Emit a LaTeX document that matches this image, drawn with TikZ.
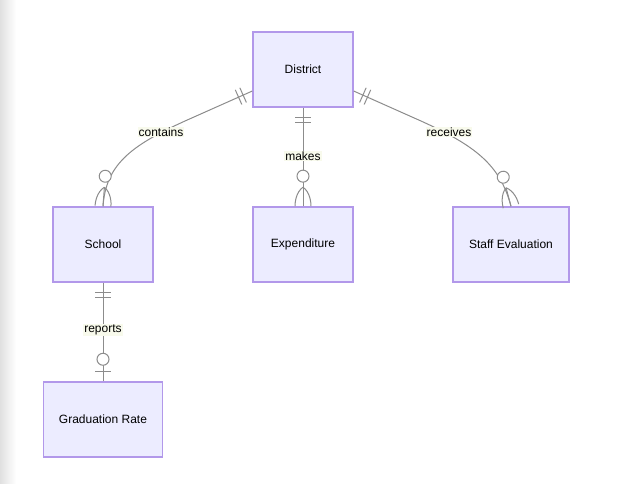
\documentclass[tikz,border=0pt]{standalone}
\usepackage{fontspec}
\setmainfont{Liberation Sans}
\usetikzlibrary{decorations.markings}

\definecolor{entfill}{RGB}{236,236,255}
\definecolor{entline}{RGB}{178,152,234}
\definecolor{relline}{RGB}{140,140,140}
\definecolor{lblfill}{RGB}{248,250,236}

\tikzset{
  entity/.style={draw=entline, fill=entfill, line width=1.5pt, minimum height=75pt, inner sep=0pt, font=\fontsize{12}{14}\selectfont},
  rel/.style={draw=relline, line width=1pt},
  lbl/.style={fill=lblfill, inner sep=1pt, font=\fontsize{12}{14}\selectfont},
  % two bars next to the parent entity
  onlyone/.style={postaction={decorate, decoration={markings,
    mark=at position 10pt with {\draw[relline, line width=1pt] (0,-8pt) -- (0,8pt);},
    mark=at position 15pt with {\draw[relline, line width=1pt] (0,-8pt) -- (0,8pt);}}}},
  % circle and crow's foot next to the child entity
  zeromany/.style={postaction={decorate, decoration={markings,
    mark=at position -0.1pt with {\draw[relline, line width=1pt] (-19pt,0) -- (0,0);
                                  \draw[relline, fill=white, line width=1pt] (-30pt,0) circle (6pt);
                                  \draw[relline, line width=1pt] (-19pt,0) .. controls (-14pt,7pt) and (-4pt,8pt) .. (0,8pt);
                                  \draw[relline, line width=1pt] (-19pt,0) .. controls (-14pt,-7pt) and (-4pt,-8pt) .. (0,-8pt);}}}},
  % circle and one bar next to the child entity
  zeroone/.style={postaction={decorate, decoration={markings,
    mark=at position -22pt with {\draw[relline, fill=white, line width=1pt] (0,0) circle (6pt);},
    mark=at position -10pt with {\draw[relline, line width=1pt] (0,-8pt) -- (0,8pt);}}}}
}

\begin{document}
\begin{tikzpicture}[x=1pt,y=1pt,yscale=-1,xscale=1]
  \useasboundingbox (0,0) rectangle (632,483);
  % page shadow at the left edge
  \shade[left color=black!12, right color=white] (0,0) rectangle (16,483);

  % Entities
  \node[entity, minimum width=100pt] (district) at (303,69.5) {District};
  \node[entity, minimum width=100pt] (school) at (103,244.5) {School};
  \node[entity, minimum width=100pt] (expend) at (303,244.5) {Expenditure};
  \node[entity, minimum width=116pt] (staff) at (511,244.5) {Staff Evaluation};
  \node[entity, minimum width=119pt] (grad) at (103,419.5) {Graduation Rate};

  % Relationships
  \draw[rel, onlyone, zeromany] (district.203) -- (185,121) .. controls (130,146) and (106,165) .. (school.north);
  \draw[rel, onlyone, zeromany] (district.south) -- (expend.north);
  \draw[rel, onlyone, zeromany] (district.-23) -- (421,121) .. controls (476,146) and (500,165) .. (staff.north);
  \draw[rel, onlyone, zeroone] (school.south) -- (grad.north);

  % Relationship labels
  \node[lbl] (lcontains) at (161,132) {contains};
  \node[lbl] (lmakes) at (303,156) {makes};
  \node[lbl] (lreceives) at (449,132) {receives};
  \node[lbl] (lreports) at (103,330) {reports};
\end{tikzpicture}
\end{document}
